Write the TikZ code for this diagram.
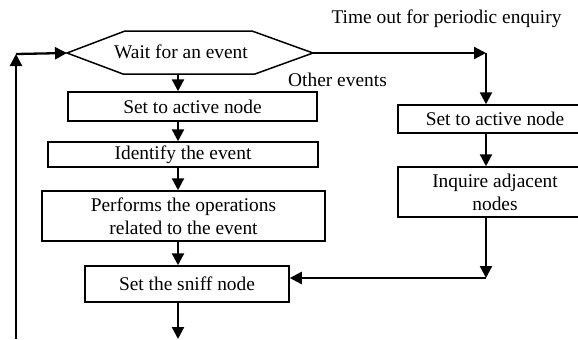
\documentclass[tikz,border=0pt]{standalone}
\usepackage{fontspec}
\setmainfont{Liberation Serif}
\usetikzlibrary{arrows.meta}
\begin{document}
\begin{tikzpicture}[x=0.5pt,y=-0.5pt,
  every node/.style={font=\fontsize{9.7}{11.5}\selectfont, inner sep=0pt},
  box/.style={draw, line width=0.75pt, align=center},
  arr/.style={line width=1.15pt, -{Triangle[length=6pt,width=6pt]}},
  ln/.style={line width=1.15pt}]
\useasboundingbox (0,0) rectangle (578,339);
\clip (0,0) rectangle (578,339);
% hexagon
\coordinate (wl) at (67,53);
\coordinate (wr) at (313,53);
\coordinate (wb) at (178,74);
\draw[line width=0.75pt] (wl) -- (125,31) -- (252,31) -- (wr) -- (255,74) -- (123,74) -- cycle;
\node (wait) at (181,52) {Wait for an event};
% left column
\node[box, minimum width=124.5pt, minimum height=14.5pt] (b1) at (192.5,106.5) {Set to active node};
\node[box, minimum width=135pt, minimum height=12.5pt] (b2) at (183,154.5) {Identify the event};
\node[box, minimum width=141.5pt, minimum height=25pt] (b3) at (183.5,216) {Performs the operations\\related to the event};
\node[box, minimum width=102pt, minimum height=18pt] (b4) at (187,284) {Set the sniff node};
% right column
\node[box, minimum width=97pt, minimum height=14pt] (b5) at (495,119) {Set to active node};
\node[box, minimum width=97pt, minimum height=25pt] (b6) at (495,192) {Inquire adjacent\\nodes};
% labels
\node (tlab) at (446.5,19) {Time out for periodic enquiry};
\node (olab) at (337.5,80) {Other events};
% helper coordinates
\coordinate (mx) at (178,0);
\coordinate (rx) at (486,0);
\coordinate (c1) at (486,53);
\coordinate (c2) at (486,278);
\coordinate (bot) at (178,339);
\coordinate (lb) at (16,339);
\coordinate (lt) at (16,54);
% main flow
\draw[arr] (wb) -- (mx |- b1.north);
\draw[arr] (mx |- b1.south) -- (mx |- b2.north);
\draw[arr] (mx |- b2.south) -- (mx |- b3.north);
\draw[arr] (mx |- b3.south) -- (mx |- b4.north);
\draw[arr] (mx |- b4.south) -- (bot);
% right branch
\draw[arr] (wr) -- (c1);
\draw[arr] (c1) -- (rx |- b5.north);
\draw[arr] (rx |- b5.south) -- (rx |- b6.north);
\draw[arr] (rx |- b6.south) -- (c2);
\draw[arr] (c2) -- (b4.east |- c2);
% loop back
\draw[arr] (lb) -- (lt);
\draw[arr] (lt) -- (wl);
\end{tikzpicture}
\end{document}
